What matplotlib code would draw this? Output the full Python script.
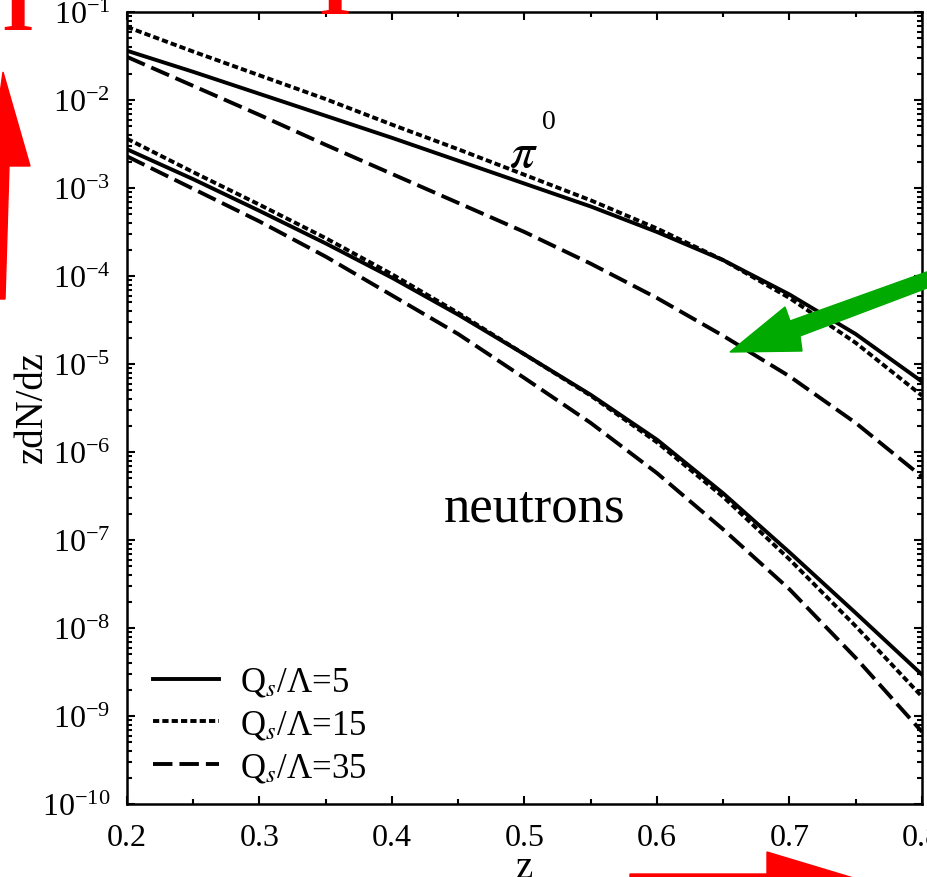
import numpy as np
import matplotlib.pyplot as plt
from matplotlib.patches import Polygon
from matplotlib.ticker import FixedLocator, LogLocator, NullFormatter, FuncFormatter

plt.rcParams['font.family'] = ['Liberation Serif', 'DejaVu Serif']
plt.rcParams['mathtext.fontset'] = 'stix'

# values (log10 of zdN/dz)
z = [0.2, 0.25, 0.3, 0.35, 0.4, 0.45, 0.5, 0.55, 0.6, 0.65, 0.7, 0.75, 0.8]
pi0_qs5 = [-1.44, -1.68, -1.93, -2.18, -2.43, -2.69, -2.95, -3.21, -3.50, -3.82, -4.21, -4.66, -5.20]
pi0_qs15 = [-1.17, -1.45, -1.72, -1.99, -2.28, -2.56, -2.85, -3.14, -3.46, -3.82, -4.25, -4.76, -5.36]
pi0_qs35 = [-1.51, -1.84, -2.17, -2.51, -2.84, -3.17, -3.50, -3.86, -4.25, -4.68, -5.14, -5.67, -6.28]
neu_qs5 = [-2.56, -2.90, -3.26, -3.63, -4.02, -4.44, -4.89, -5.35, -5.86, -6.47, -7.14, -7.83, -8.53]
neu_qs15 = [-2.44, -2.82, -3.19, -3.57, -3.98, -4.42, -4.89, -5.36, -5.89, -6.51, -7.22, -7.98, -8.78]
neu_qs35 = [-2.64, -3.01, -3.38, -3.78, -4.22, -4.66, -5.16, -5.67, -6.24, -6.88, -7.56, -8.34, -9.18]

labels = ['Q$_s$/Λ=5', 'Q$_s$/Λ=15', 'Q$_s$/Λ=35']
styles = ['-', (0, (1.6, 0.8)), (0, (5.0, 1.8))]
xticks = [0.2, 0.3, 0.4, 0.5, 0.6, 0.7, 0.8]

W, H = 927, 878
def P(x, y):
    # pixel position (from top-left) -> figure fraction
    return (x / W, 1 - y / H)

fig = plt.figure(figsize=(W / 100, H / 100), dpi=100)
ax = fig.add_axes([127 / W, 1 - 805 / H, 795 / W, 792 / H])

lw = 2.8
for vals, ls, lab in zip([pi0_qs5, pi0_qs15, pi0_qs35], styles, labels):
    ax.plot(z, 10 ** np.array(vals), color='black', lw=lw, ls=ls, label=lab,
            dash_capstyle='butt')
for vals, ls in zip([neu_qs5, neu_qs15, neu_qs35], styles):
    ax.plot(z, 10 ** np.array(vals), color='black', lw=lw, ls=ls, dash_capstyle='butt')

ax.set_yscale('log')
ax.set_xlim(0.2, 0.8)
ax.set_ylim(1e-10, 1e-1)
ax.set_xticks(xticks)
ax.set_xticklabels(['%.1f' % t for t in xticks])
ax.xaxis.set_minor_locator(FixedLocator([0.25, 0.35, 0.45, 0.55, 0.65, 0.75]))
ax.yaxis.set_major_locator(LogLocator(base=10, numticks=20))
ax.yaxis.set_minor_locator(LogLocator(base=10, subs=np.arange(2, 10), numticks=20))
ax.yaxis.set_minor_formatter(NullFormatter())
ax.yaxis.set_major_formatter(FuncFormatter(
    lambda v, p: r'$\mathregular{10^{%d}}$' % int(round(np.log10(v)))))

ax.tick_params(which='both', direction='in', top=True, right=True, width=1.5)
ax.tick_params(which='major', length=6, labelsize=23)
ax.tick_params(which='minor', length=3.5)
ax.tick_params(axis='y', which='major', pad=12)
ax.tick_params(axis='x', which='major', pad=14)
for s in ax.spines.values():
    s.set_linewidth(1.8)

ax.set_ylabel('zdN/dz', fontsize=28, va='center')
ax.yaxis.set_label_coords((32 - 127) / 795, 0.5025)
ax.set_xlabel('z', fontsize=28, va='center')
ax.xaxis.set_label_coords(0.5, (805 - 869) / 792)

ax.text(0.498, 0.821, r'$\pi$', fontsize=36, ha='center', va='center', transform=ax.transAxes)
ax.text(0.531, 0.862, '0', fontsize=20, ha='center', va='center', transform=ax.transAxes)
ax.text(0.513, 0.374, 'neutrons', fontsize=38, ha='center', va='center', transform=ax.transAxes)

ax.legend(loc='lower left', bbox_to_anchor=(0.033, 0.025), frameon=False, fontsize=25,
          handlelength=1.9, handletextpad=0.6, labelspacing=0.28, borderpad=0,
          borderaxespad=0)

# slide annotations drawn over the chart
green = '#00aa00'
fig.patches.append(Polygon([P(730, 353), P(785, 308), P(790, 322), P(935, 270),
                            P(935, 286), P(800, 337), P(802, 352)],
                           closed=True, color=green, transform=fig.transFigure))
fig.patches.append(Polygon([P(3, 73), P(30, 167), P(9, 167), P(5, 300), P(-10, 300),
                            P(-10, 167)], closed=True, color='red', transform=fig.transFigure))
fig.patches.append(Polygon([P(630, 875), P(767, 875), P(767, 853), P(870, 884),
                            P(767, 915), P(630, 915)], closed=True, color='red',
                           transform=fig.transFigure))
fig.text(*P(17, 30), 'I', color='red', fontsize=60, fontweight='bold', ha='center',
         va='baseline')
fig.text(*P(334, 14), 'I', color='red', fontsize=60, fontweight='bold', ha='center',
         va='baseline')

fig.savefig('out.png', dpi=100)
